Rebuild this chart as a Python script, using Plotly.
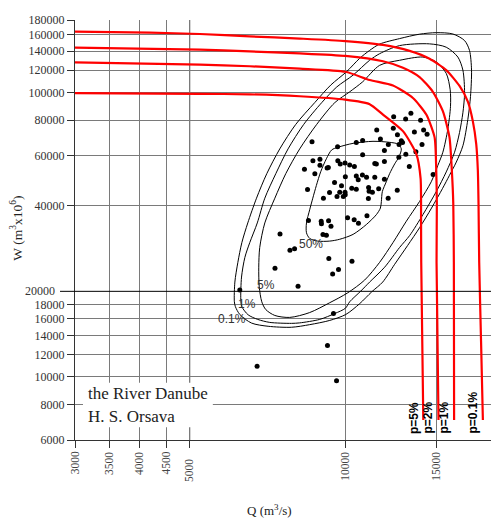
import math
import plotly.graph_objects as go

# ---------------- data (Q in m3/s, W in m3x10^6) ----------------
q_obs = [12400, 13390, 13080, 13980, 11500, 12380, 12610, 13600, 14170, 14390,
         8620, 10500, 10800, 11690, 12110, 12830, 12900, 12700, 9660, 14070,
         13690, 13090, 12690, 10800, 11900, 8655, 8930, 9670, 9775, 9985,
         10196, 10410, 11400, 11480, 11900, 13295, 8335, 8930, 9220, 9270,
         8730, 10000, 10500, 10590, 10790, 10990, 11400, 11900, 14780, 9530,
         9830, 8450, 9320, 9753, 9985, 9995, 10290, 10500, 11090, 11115,
         11280, 11600, 12600, 9070, 9635, 9910, 11080, 12100, 11010, 10100,
         10400, 10600, 8485, 8980, 8990, 9280, 9380, 7475, 9050, 9190,
         7813, 7976, 9290, 10300, 7310, 9450, 9700, 6250, 8100, 9485,
         9235, 6750, 9615]
w_obs = [82200, 84600, 80700, 80000, 73900, 74900, 71100, 72600, 73900, 71300,
         67200, 66700, 67800, 68650, 65650, 67700, 66700, 65650, 64500, 65650,
         61950, 60750, 59200, 60400, 62600, 57600, 58300, 57600, 56100, 56500,
         55600, 55000, 56300, 56050, 57200, 55000, 53700, 55500, 54300, 54550,
         51870, 50600, 50900, 49400, 51300, 50400, 50400, 49600, 51500, 48300,
         47050, 45600, 44500, 44600, 44600, 43700, 46100, 45750, 46350, 45000,
         44600, 45900, 45300, 42500, 43100, 43100, 42400, 42500, 36900, 36300,
         35700, 34700, 35500, 35300, 34600, 35400, 33900, 31800, 31700, 31500,
         27900, 28250, 26100, 25500, 24100, 23000, 23850, 20200, 20850, 16700,
         12900, 10900, 9700]

# probability contours (closed lines)
c50_q = [9680, 10350, 11310, 12179, 12640, 12830, 12690, 12460, 12179, 12000,
         11790, 11740, 11690, 11480, 10980, 10350, 9753, 9329, 8840, 8531,
         8410, 8410, 8531, 8650, 8790, 8960, 9190, 9410]
c50_w = [64230, 66290, 67390, 66840, 65900, 63370, 59300, 56180, 51870, 48570,
         44840, 41410, 39265, 37210, 34350, 31720, 30490, 30040, 30040, 30700,
         32140, 34800, 38700, 42520, 47150, 52660, 58510, 62860]

c5_q = [6892, 6815, 6800, 6830, 6986, 7305, 7670, 8160, 8803, 9541,
        10196, 10804, 11648, 12733, 14125, 14990, 15672, 15950, 15973, 15783,
        15438, 15097, 14660, 13916, 13121, 12362, 11648, 10900, 10107, 9329,
        8531, 7806, 7305, 7017]
c5_w = [18380, 20735, 24320, 28535, 34800, 42520, 51870, 63370, 77300, 92200,
        100630, 109150, 124700, 129900, 133330, 128130, 116815, 102250, 89510, 74350,
        61700, 55450, 48570, 41410, 35290, 29670, 25290, 21920, 19760, 18240,
        16840, 16190, 16450, 17250]

c1_q = [6278, 6298, 6392, 6533, 6756, 6986, 7337, 7748, 8308, 9001,
        9626, 10350, 11142, 11648, 12733, 14548, 15672, 16504, 16877, 17005,
        16877, 16628, 16264, 15672, 14990, 14125, 13312, 12733, 11913, 11142,
        10707, 10196, 10000, 9541, 8919, 8160, 7866, 7142, 6771, 6485, 6307]
c1_w = [18690, 22450, 26320, 29670, 34800, 42520, 51870, 63370, 77300, 92200,
        104680, 115200, 129900, 137000, 146300, 148370, 144400, 133330, 119950, 99710,
        84890, 72400, 61700, 52600, 44840, 37210, 31400, 28535, 24320, 21560,
        20025, 18380, 17435, 16710, 15930, 15490, 15430, 15550, 15930, 16540, 17670]

c01_q = [6100, 6114, 6196, 6307, 6476, 6732, 7048, 7467, 8018, 8725,
         9371, 10050, 10659, 11142, 11648, 12733, 13916, 14990, 16140, 17005,
         17383, 17540, 17460, 17255, 16880, 16390, 15900, 15420, 14680, 13916,
         13196, 12456, 11810, 11243, 10659, 10020, 9329, 8531, 7866, 7090,
         6583, 6250, 6128]
c01_w = [18380, 21560, 25290, 29670, 34800, 42520, 51870, 63370, 77300, 92200,
         106300, 118340, 131980, 140700, 148100, 154840, 160470, 162430, 160730, 152400,
         140700, 119950, 96925, 80500, 65040, 56970, 51190, 46055, 39265, 33470,
         28990, 24900, 21560, 19910, 18100, 16580, 15800, 15270, 14950, 15070,
         15470, 16580, 17670]

contour_labels = ["50%", "5%", "1%", "0.1%"]
contour_label_q = [8597, 7017, 6462, 6024]
contour_label_w = [29440, 21065, 18100, 15930]

# joint exceedance curves
p5_q = [3000, 5232, 6533, 8160, 10000, 11142, 11823, 12924, 13715, 13980, 14010, 14020, 14150]
p5_w = [99500, 99010, 98600, 97075, 94450, 91075, 83700, 73170, 60840, 49880, 34800, 25290, 7060]
p2_q = [3000, 5232, 6533, 8160, 10000, 11142, 12362, 13511, 14340, 14880, 14990, 15030, 15010, 15140]
p2_w = [127800, 125430, 123750, 121380, 118340, 110750, 105900, 95700, 83700, 69585, 53290, 40830, 25290, 7060]
p1_q = [3000, 5232, 6533, 8160, 10000, 11823, 12924, 13916, 14766, 15438, 15900, 16067, 16170, 16213, 16230]
p1_w = [144000, 141500, 139580, 137340, 134580, 128860, 122330, 113420, 100630, 86010, 69585, 53290, 40830, 25290, 7060]
p01_q = [3000, 4188, 5232, 6533, 8160, 10000, 11823, 13312, 14548, 15672, 16628, 17255, 17644, 17912, 18040, 18095, 18150, 18300, 18450]
p01_w = [163950, 162430, 160730, 157650, 154840, 151790, 147150, 140140, 131460, 119950, 105490, 92950, 79220, 65900, 53290, 40830, 25290, 13360, 7060]

p_labels = ["p=5%", "p=2%", "p=1%", "p=0.1%"]
p_label_q = [14087, 15031, 16140, 18360]
p_label_w = [6210, 6210, 6210, 6210]

x_ticks = [3000, 3500, 4000, 4500, 5000, 10000, 15000, 20000]
y_ticks = [6000, 8000, 10000, 12000, 14000, 16000, 18000,
           40000, 60000, 80000, 100000, 120000, 140000, 160000, 180000]
y_special = 20000

# ---------------- figure ----------------
SERIF = "Liberation Serif"
SANS = "Liberation Sans"
PW = 426.5  # plot width px
PH = 426.0  # plot height px

fig = go.Figure()


def closed(a):
    return list(a) + [a[0]]


for q, w in [(c01_q, c01_w), (c1_q, c1_w), (c5_q, c5_w), (c50_q, c50_w)]:
    fig.add_trace(go.Scatter(x=closed(q), y=closed(w), mode="lines",
                             line=dict(color="black", width=1, shape="spline", smoothing=0.8),
                             hoverinfo="skip", showlegend=False))

fig.add_trace(go.Scatter(x=q_obs, y=w_obs, mode="markers",
                         marker=dict(color="black", size=5), showlegend=False))

for q, w in [(p5_q, p5_w), (p2_q, p2_w), (p1_q, p1_w), (p01_q, p01_w)]:
    fig.add_trace(go.Scatter(x=q, y=w, mode="lines",
                             line=dict(color="#ff0000", width=2.2, shape="spline", smoothing=0.6),
                             hoverinfo="skip", showlegend=False))

annotations = []
for lab, q, w in zip(contour_labels, contour_label_q, contour_label_w):
    annotations.append(dict(x=math.log10(q), y=math.log10(w), xref="x", yref="y", text=lab,
                            showarrow=False, xanchor="center", yanchor="middle",
                            font=dict(family=SANS, size=12, color="#333")))
for lab, q, w in zip(p_labels, p_label_q, p_label_w):
    annotations.append(dict(x=math.log10(q), y=math.log10(w), xref="x", yref="y", text=lab,
                            showarrow=False, textangle=-90, xanchor="right", yanchor="bottom",
                            font=dict(family=SANS, size=12, color="black", weight="bold")))
# x tick labels
for v in x_ticks:
    ytop = -0.0399 if v == 5000 else -0.0235
    annotations.append(dict(x=math.log10(v), y=ytop, xref="x", yref="paper",
                            text=str(v), showarrow=False, textangle=-90,
                            xanchor="center", yanchor="top",
                            font=dict(family=SERIF, size=11.5, color="#444")))
# 20000 y label (longer tick)
annotations.append(dict(x=-18.3 / PW, y=math.log10(y_special), xref="paper", yref="y", text=str(y_special),
                        showarrow=False, xanchor="right", yanchor="middle",
                        font=dict(family=SERIF, size=12, color="#333")))
# axis titles
annotations.append(dict(x=-58.3 / PW, y=0.505, xref="paper", yref="paper",
                        text="W (m<sup>3</sup>x10<sup>6</sup>)", showarrow=False, textangle=-90,
                        xanchor="center", yanchor="middle",
                        font=dict(family=SERIF, size=13.5, color="#222")))
annotations.append(dict(x=195 / PW, y=-71 / PH, xref="paper", yref="paper",
                        text="Q (m<sup>3</sup>/s)", showarrow=False,
                        xanchor="center", yanchor="middle",
                        font=dict(family=SERIF, size=13, color="#222")))
# station text
annotations.append(dict(x=11 / PW, y=47.5 / PH, xref="paper", yref="paper",
                        text="the River Danube", showarrow=False, xanchor="left", yanchor="middle",
                        font=dict(family=SERIF, size=17, color="#222")))
annotations.append(dict(x=11 / PW, y=23.5 / PH, xref="paper", yref="paper",
                        text="H. S. Orsava", showarrow=False, xanchor="left", yanchor="middle",
                        font=dict(family=SERIF, size=17, color="#222")))

shapes = [
    dict(type="rect", xref="paper", yref="paper", x0=8 / PW, x1=138 / PW,
         y0=13 / PH, y1=58 / PH, fillcolor="white", line=dict(width=0), layer="above"),
    dict(type="line", xref="paper", yref="y", x0=-15 / PW, x1=1, y0=y_special, y1=y_special,
         line=dict(color="black", width=1), layer="above"),
    dict(type="line", xref="x", yref="paper", x0=5000, x1=5000, y0=0, y1=1,
         line=dict(color="#333", width=1), layer="below"),
]

fig.update_layout(
    width=499, height=518,
    margin=dict(l=67, r=5.5, t=6, b=86),
    paper_bgcolor="white", plot_bgcolor="white",
    showlegend=False,
    xaxis=dict(type="log", range=[math.log10(3000), math.log10(20000)], tickvals=x_ticks,
               showticklabels=False,
               ticks="outside", ticklen=7, tickcolor="#333", tickwidth=1,
               showgrid=True, gridcolor="#7a7a7a", gridwidth=1,
               showline=True, linecolor="#333", linewidth=1, zeroline=False),
    yaxis=dict(type="log", range=[math.log10(6000), math.log10(180000)], tickvals=y_ticks,
               ticktext=[str(v) for v in y_ticks], tickfont=dict(family=SERIF, size=12, color="#333"),
               ticklabeloverflow="allow",
               ticks="outside", ticklen=7, tickcolor="#333", tickwidth=1,
               showgrid=True, gridcolor="#7a7a7a", gridwidth=1,
               showline=True, linecolor="#333", linewidth=1, zeroline=False),
    annotations=annotations,
    shapes=shapes,
)

fig.write_html("out.html")
